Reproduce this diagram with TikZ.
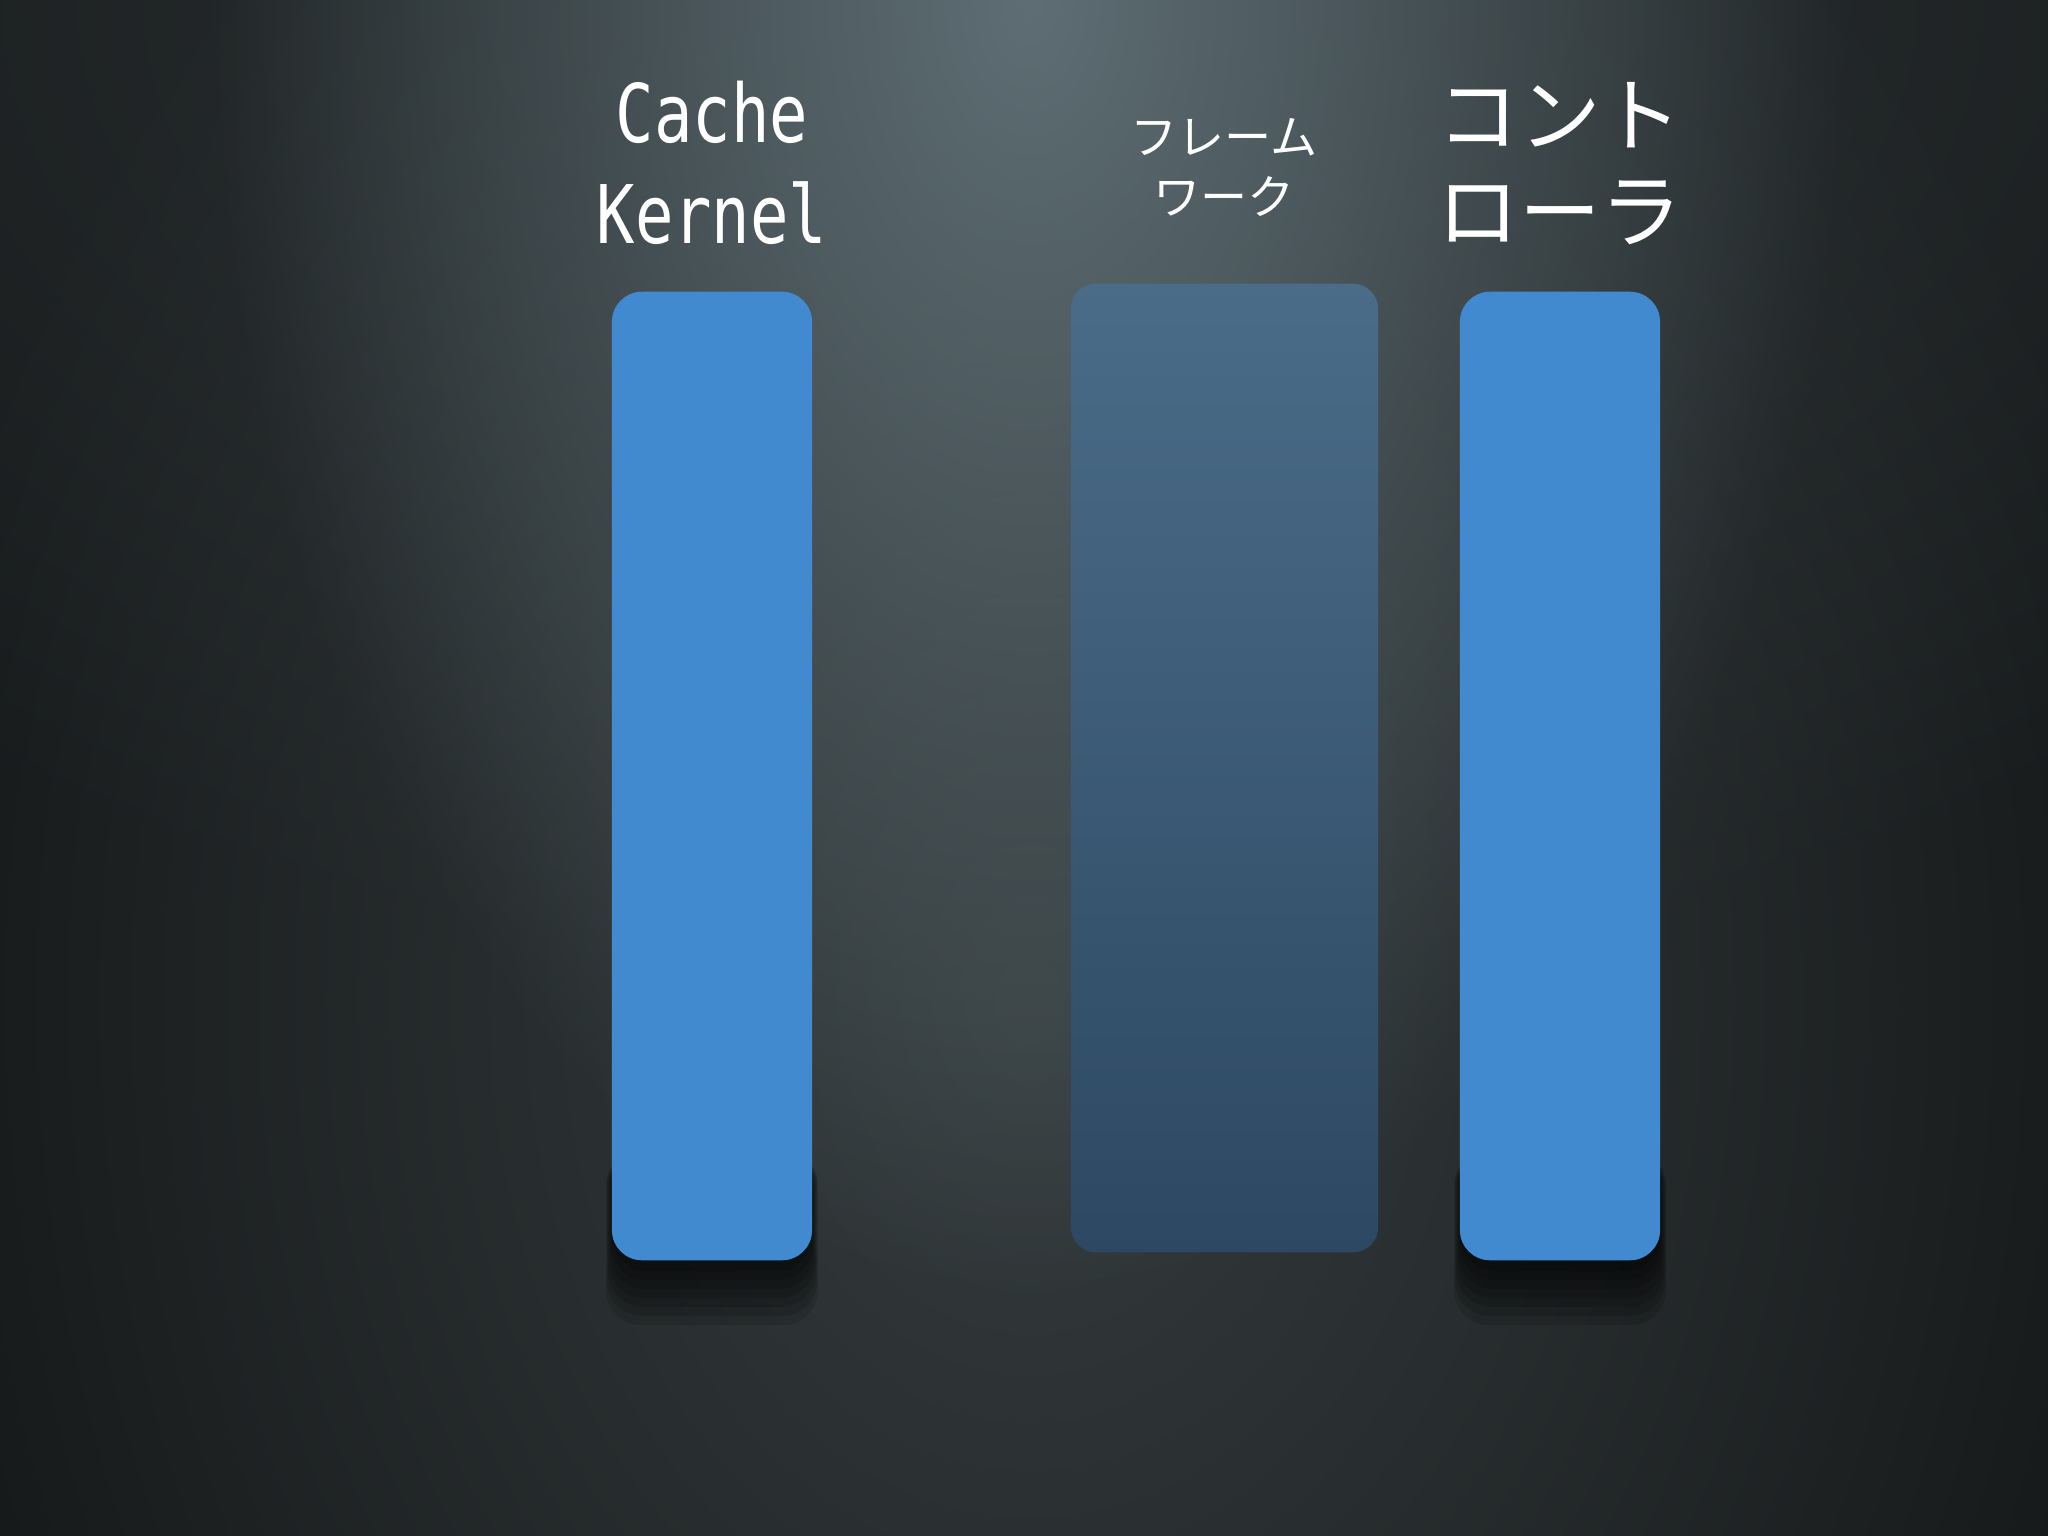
\documentclass[tikz,border=0pt]{standalone}
\usepackage{fontspec}
\usetikzlibrary{fadings}
\newfontfamily\monofnt[FakeStretch=0.79]{DejaVu Sans Mono}
\newfontfamily\cjk{Noto Sans CJK JP}
\definecolor{bgdark}{RGB}{22,25,26}
\definecolor{bgwide}{RGB}{44,50,52}
\definecolor{bgcol}{RGB}{54,61,63}
\definecolor{bgglow}{RGB}{94,110,116}
\definecolor{boxblue}{RGB}{65,138,208}
\definecolor{fwtop}{RGB}{74,108,136}
\definecolor{fwbot}{RGB}{45,72,98}
\tikzfading[name=glowfade, inner color=transparent!0, outer color=transparent!100]
\begin{document}
\begin{tikzpicture}[x={(0.01cm,0)},y={(0,-0.01cm)},
  bluebar/.style={rectangle, rounded corners=0.3cm, fill=boxblue, minimum width=2cm, minimum height=9.68cm, inner sep=0pt},
  fwbar/.style={rectangle, rounded corners=0.25cm, top color=fwtop, bottom color=fwbot, minimum width=3.07cm, minimum height=9.68cm, inner sep=0pt},
  label/.style={text=white, align=center, inner sep=0pt, anchor=base}]
\useasboundingbox (0,0) rectangle (2048,1536);
\fill[bgdark] (0,0) rectangle (2048,1536);
\begin{scope}
\clip (0,0) rectangle (2048,1536);
\fill[bgwide, path fading=glowfade] (1030,0) ellipse [x radius=1700, y radius=1000];
\fill[bgcol, path fading=glowfade] (1030,1000) ellipse [x radius=1150, y radius=1500];
\fill[bgglow, path fading=glowfade] (1030,0) ellipse [x radius=820, y radius=1300];
\end{scope}
% shadows
\foreach \bx in {712,1560}{
  \foreach \i in {1,...,7}{
    \fill[black, opacity=0.13, rounded corners=0.35cm] (\bx-99-\i,1150) rectangle (\bx+99+\i,1262+\i*9);
  }
}
\node[bluebar] (ck) at (712,776) {};
\node[fwbar] (fw) at (1224.5,768) {};
\node[bluebar] (ctl) at (1560,776) {};
\node[label, font=\monofnt\fontsize{23}{28.7}\selectfont] (ckl) at (712,243) {Cache\\Kernel};
\node[label, font=\cjk\fontsize{13.4}{17}\selectfont] (fwl) at (1224,214) {フレーム\\ワーク};
\node[label, font=\cjk\fontsize{23.2}{27.2}\selectfont] (ctll) at (1560,241) {コント\\ローラ};
\end{tikzpicture}
\end{document}
